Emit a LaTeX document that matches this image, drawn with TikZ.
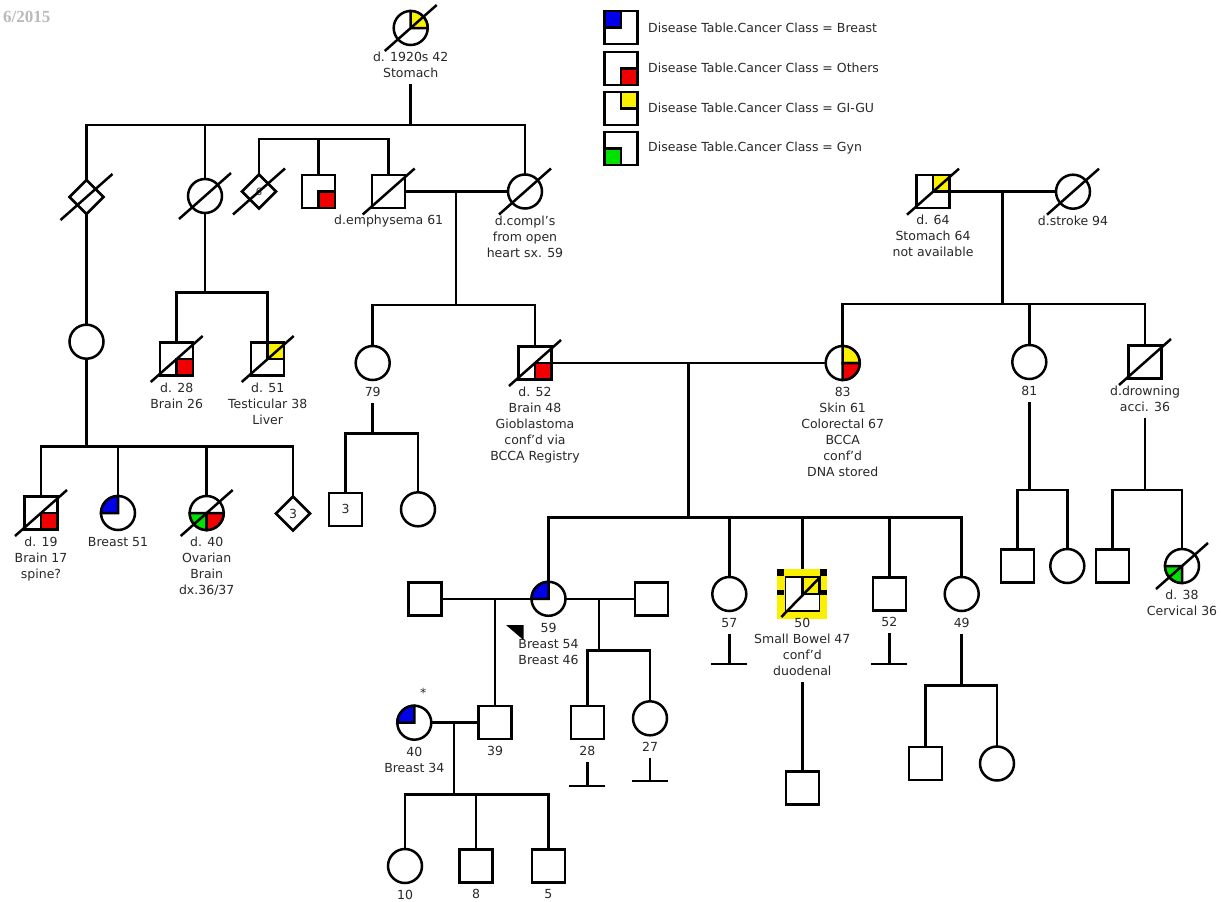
\documentclass[tikz,border=0pt]{standalone}
\usepackage{fontspec}
\setmainfont{DejaVu Sans}
\newfontfamily\datefont{Liberation Serif}
\usetikzlibrary{shapes.geometric}

\definecolor{qblue}{RGB}{0,0,235}
\definecolor{qred}{RGB}{240,0,0}
\definecolor{qyellow}{RGB}{250,240,0}
\definecolor{qgreen}{RGB}{0,225,0}
\definecolor{txt}{RGB}{40,40,40}
\newcommand{\lblfont}{\fontsize{12.5}{16}\selectfont}

% quadrant fills for squares
\newcommand{\pedSqUL}[2]{\filldraw[fill=#2,line width=2.5pt] (#1.center) rectangle (#1.north west);}
\newcommand{\pedSqUR}[2]{\filldraw[fill=#2,line width=2.5pt] (#1.center) rectangle (#1.north east);}
\newcommand{\pedSqLL}[2]{\filldraw[fill=#2,line width=2.5pt] (#1.center) rectangle (#1.south west);}
\newcommand{\pedSqLR}[2]{\filldraw[fill=#2,line width=2.5pt] (#1.center) rectangle (#1.south east);}
% quadrant fills for circles
\newcommand{\pedCiUL}[2]{\filldraw[fill=#2,line width=2.5pt] (#1.center) -- (#1.north) arc[start angle=90,end angle=180,radius=17pt] -- cycle;}
\newcommand{\pedCiUR}[2]{\filldraw[fill=#2,line width=2.5pt] (#1.center) -- (#1.north) arc[start angle=90,end angle=0,radius=17pt] -- cycle;}
\newcommand{\pedCiLL}[2]{\filldraw[fill=#2,line width=2.5pt] (#1.center) -- (#1.west) arc[start angle=180,end angle=270,radius=17pt] -- cycle;}
\newcommand{\pedCiLR}[2]{\filldraw[fill=#2,line width=2.5pt] (#1.center) -- (#1.south) arc[start angle=270,end angle=360,radius=17pt] -- cycle;}
% deceased slash
\newcommand{\pedSlash}[1]{\draw[line width=2.5pt] (#1.center) ++(-26,23) -- ++(52,-46);}

\tikzset{
  sym/.style={draw=black, line width=2.5pt, fill=white, inner sep=0pt, outer sep=0pt, font=\lblfont, text=txt},
  male/.style={sym, rectangle, minimum size=33pt},
  female/.style={sym, circle, minimum size=34pt},
  unknown/.style={sym, diamond, minimum width=34pt, minimum height=34pt},
  lbl/.style={anchor=north, inner sep=0pt, align=center, font=\lblfont, text=txt, yshift=-7pt},
  rel/.style={line width=2.5pt, draw=black},
  legtext/.style={anchor=west, inner sep=0pt, font=\lblfont, text=txt},
}

\begin{document}
\begin{tikzpicture}[x=1pt, y=-1pt]
\useasboundingbox (0,0) rectangle (1221,902);
\fill[white] (0,0) rectangle (1221,902);

% header fragment
\node[anchor=west, inner sep=0pt, font=\datefont\bfseries\fontsize{17}{17}\selectfont, text=black!27] (date) at (3,16.7) {6/2015};

% ---------- legend ----------
\node[male] (lg1) at (621,27.5) {};  \pedSqUL{lg1}{qblue}
\node[legtext] (lt1) at (648,27.5) {Disease Table.Cancer Class = Breast};
\node[male] (lg2) at (621,68.3) {};  \pedSqLR{lg2}{qred}
\node[legtext] (lt2) at (648,68.3) {Disease Table.Cancer Class = Others};
\node[male] (lg3) at (621,108.3) {}; \pedSqUR{lg3}{qyellow}
\node[legtext] (lt3) at (648,108.3) {Disease Table.Cancer Class = GI-GU};
\node[male] (lg4) at (621,148.3) {}; \pedSqLL{lg4}{qgreen}
\node[legtext] (lt4) at (648,148.3) {Disease Table.Cancer Class = Gyn};

% ---------- generation I ----------
\node[female] (gm) at (410.7,28) {}; \pedCiUR{gm}{qyellow} \pedSlash{gm}
\node[lbl] (gm-l) at (gm.south) {d. 1920s 42\\Stomach};
\coordinate (s0) at (410.7,125);
\draw[rel] (gm-l.south) ++(0,6) -- (s0);

\node[unknown] (ua) at (86.5,197) {}; \pedSlash{ua}
\node[female] (fa) at (205,196) {}; \pedSlash{fa}
\node[female] (fb) at (525,191.5) {}; \pedSlash{fb}
\node[lbl] (fb-l) at (fb.south) {d.compl's\\from open\\heart sx. 59};
\draw[rel] (ua.north) |- (s0);
\draw[rel] (fa.north) |- (s0);
\draw[rel] (fb.north) |- (s0);

% husband's sibship
\node[unknown] (ub) at (259,191.5) {\fontsize{10}{10}\selectfont 6}; \pedSlash{ub}
\node[male] (ma) at (318.7,191.5) {}; \pedSqLR{ma}{qred}
\node[male] (mb) at (388.7,191.5) {}; \pedSlash{mb}
\node[lbl] (mb-l) at (mb.south) {d.emphysema 61};
\coordinate (e0) at (318.7,139);
\draw[rel] (ub.north) |- (e0);
\draw[rel] (ma.north) -- (e0);
\draw[rel] (mb.north) |- (e0);

% ---------- left branch ----------
\node[female] (fj) at (86.5,341.7) {};
\draw[rel] (ua.south) -- (fj.north);
\coordinate (s7) at (86.5,446.7);
\draw[rel] (fj.south) -- (s7);
\node[male] (mk) at (41,513) {}; \pedSqLR{mk}{qred} \pedSlash{mk}
\node[lbl] (mk-l) at (mk.south) {d. 19\\Brain 17\\spine?};
\node[female] (fk) at (118,513) {}; \pedCiUL{fk}{qblue}
\node[lbl] (fk-l) at (fk.south) {Breast 51};
\node[female] (fl) at (206.7,513) {}; \pedCiLL{fl}{qgreen} \pedCiLR{fl}{qred} \pedSlash{fl}
\node[lbl] (fl-l) at (fl.south) {d. 40\\Ovarian\\Brain\\dx.36/37};
\node[unknown] (uc) at (293,513.5) {3};
\draw[rel] (mk.north) |- (s7);
\draw[rel] (fk.north) |- (s7);
\draw[rel] (fl.north) |- (s7);
\draw[rel] (uc.north) |- (s7);

\coordinate (s8) at (205,292.7);
\draw[rel] (fa.south) -- (s8);
\node[male] (ml) at (176.7,359) {}; \pedSqLR{ml}{qred} \pedSlash{ml}
\node[lbl] (ml-l) at (ml.south) {d. 28\\Brain 26};
\node[male] (mm) at (267.7,359) {}; \pedSqUR{mm}{qyellow} \pedSlash{mm}
\node[lbl] (mm-l) at (mm.south) {d. 51\\Testicular 38\\Liver};
\draw[rel] (ml.north) |- (s8);
\draw[rel] (mm.north) |- (s8);

% ---------- middle family ----------
\draw[rel] (mb.east) -- (fb.west);
\coordinate (c1) at (456,191.5);
\coordinate (s1) at (456,305);
\draw[rel] (c1) -- (s1);
\node[female] (fc) at (372.7,363) {};
\node[lbl] (fc-l) at (fc.south) {79};
\node[male] (mc) at (535,363) {}; \pedSqLR{mc}{qred} \pedSlash{mc}
\node[lbl] (mc-l) at (mc.south) {d. 52\\Brain 48\\Gioblastoma\\conf'd via\\BCCA Registry};
\draw[rel] (fc.north) |- (s1);
\draw[rel] (mc.north) |- (s1);

\coordinate (s2) at (372.7,433.3);
\draw[rel] (fc-l.south) ++(0,6) -- (s2);
\node[male] (md) at (345.7,509.3) {3};
\node[female] (fd) at (418,509.3) {};
\draw[rel] (md.north) |- (s2);
\draw[rel] (fd.north) |- (s2);

% ---------- right grandparents ----------
\node[male] (mf) at (933,191.7) {}; \pedSqUR{mf}{qyellow} \pedSlash{mf}
\node[lbl] (mf-l) at (mf.south) {d. 64\\Stomach 64\\not available};
\node[female] (ff) at (1073,191.7) {}; \pedSlash{ff}
\node[lbl] (ff-l) at (ff.south) {d.stroke 94};
\draw[rel] (mf.east) -- (ff.west);
\coordinate (c3) at (1002.3,191.7);
\coordinate (s4) at (1002.3,304);
\draw[rel] (c3) -- (s4);

\node[female] (fe) at (842.7,363) {}; \pedCiUR{fe}{qyellow} \pedCiLR{fe}{qred}
\node[lbl] (fe-l) at (fe.south) {83\\Skin 61\\Colorectal 67\\BCCA\\conf'd\\DNA stored};
\node[female] (fg) at (1029.3,362) {};
\node[lbl] (fg-l) at (fg.south) {81};
\node[male] (mg) at (1145,362) {}; \pedSlash{mg}
\node[lbl] (mg-l) at (mg.south) {d.drowning\\acci. 36};
\draw[rel] (fe.north) |- (s4);
\draw[rel] (fg.north) |- (s4);
\draw[rel] (mg.north) |- (s4);

\coordinate (s5) at (1029.3,490);
\draw[rel] (fg-l.south) ++(0,6) -- (s5);
\node[male] (mh) at (1017.7,566) {};
\node[female] (fh) at (1067.3,566) {};
\draw[rel] (mh.north) |- (s5);
\draw[rel] (fh.north) |- (s5);

\coordinate (s6) at (1145,490);
\draw[rel] (mg-l.south) ++(0,6) -- (s6);
\node[male] (mi) at (1112.3,566) {};
\node[female] (fi) at (1182,566) {}; \pedCiLL{fi}{qgreen} \pedSlash{fi}
\node[lbl] (fi-l) at (fi.south) {d. 38\\Cervical 36};
\draw[rel] (mi.north) |- (s6);
\draw[rel] (fi.north) |- (s6);

% ---------- couple d.52 x 83 ----------
\draw[rel] (mc.east) -- (fe.west);
\coordinate (c2) at (688.3,363);
\coordinate (s3) at (688.3,517.3);
\draw[rel] (c2) -- (s3);

\node[female] (fn) at (548.5,598.8) {}; \pedCiUL{fn}{qblue}
\node[lbl] (fn-l) at (fn.south) {59\\Breast 54\\Breast 46};
\fill (506,625) -- (523.5,625) -- (523.5,640) -- cycle;
\node[female] (fr) at (729.3,594) {};
\node[lbl] (fr-l) at (fr.south) {57};

% highlighted individual
\coordinate (mtc) at (802.3,594);
\coordinate (mtTop) at (802.3,569);
\fill[qyellow] (mtc) ++(-25,-25) rectangle ++(50,50);
\fill (mtc) ++(-25,-25) rectangle ++(7,7);
\fill (mtc) ++(18,-25) rectangle ++(7,7);
\fill (mtc) ++(-25,-4) rectangle ++(7,5);
\fill (mtc) ++(18,-4) rectangle ++(7,5);
\node[male, line width=1.6pt, minimum size=34pt] (mt) at (mtc) {};
\pedSqUR{mt}{qyellow}
\draw[line width=2.5pt] (mt.center) ++(-21,23) -- ++(38,-39);
\node[lbl] (mt-l) at (mt.south) {50\\Small Bowel 47\\conf'd\\duodenal};

\node[male] (mu) at (889.3,594) {};
\node[lbl] (mu-l) at (mu.south) {52};
\node[female] (fs) at (961.7,594) {};
\node[lbl] (fs-l) at (fs.south) {49};
\draw[rel] (fn.north) |- (s3);
\draw[rel] (fr.north) |- (s3);
\draw[rel] (mtTop) |- (s3);
\draw[rel] (mu.north) |- (s3);
\draw[rel] (fs.north) |- (s3);

% no offspring
\coordinate (nr) at (729.3,664);
\draw[rel] (fr-l.south) ++(0,6) -- (nr);
\draw[rel] (nr) ++(-18,0) -- ++(36,0);
\coordinate (nu) at (889.3,664);
\draw[rel] (mu-l.south) ++(0,6) -- (nu);
\draw[rel] (nu) ++(-18,0) -- ++(36,0);

\node[male] (mv) at (802.3,788) {};
\draw[rel] (mt-l.south) ++(0,6) -- (mv.north);

\coordinate (s11) at (961.7,685.7);
\draw[rel] (fs-l.south) ++(0,6) -- (s11);
\node[male] (mw) at (925.7,763.5) {};
\node[female] (ft) at (997,763.5) {};
\draw[rel] (mw.north) |- (s11);
\draw[rel] (ft.north) |- (s11);

% ---------- 59's partners and children ----------
\node[male] (mn) at (425,598.8) {};
\node[male] (mo) at (651.7,598.8) {};
\draw[rel] (mn.east) -- (fn.west);
\draw[rel] (fn.east) -- (mo.west);
\coordinate (c4) at (495,598.8);
\node[male] (mp) at (495,722.7) {};
\node[lbl] (mp-l) at (mp.south) {39};
\draw[rel] (c4) -- (mp.north);

\coordinate (c5) at (599,598.8);
\coordinate (s9) at (599,650.7);
\draw[rel] (c5) -- (s9);
\node[male] (mq) at (587.3,722.7) {};
\node[lbl] (mq-l) at (mq.south) {28};
\node[female] (fo) at (650,718.3) {};
\node[lbl] (fo-l) at (fo.south) {27};
\draw[rel] (mq.north) |- (s9);
\draw[rel] (fo.north) |- (s9);
\coordinate (nq) at (587.3,786);
\draw[rel] (mq-l.south) ++(0,6) -- (nq);
\draw[rel] (nq) ++(-18,0) -- ++(36,0);
\coordinate (no) at (650,781);
\draw[rel] (fo-l.south) ++(0,6) -- (no);
\draw[rel] (no) ++(-18,0) -- ++(36,0);

% ---------- 39 x 40 ----------
\node[female] (fp) at (414.3,722.7) {}; \pedCiUL{fp}{qblue}
\node[lbl] (fp-l) at (fp.south) {40\\Breast 34};
\node[font=\lblfont, text=txt, inner sep=0pt] (star) at (423.3,693) {*};
\draw[rel] (fp.east) -- (mp.west);
\coordinate (c6) at (454,722.7);
\coordinate (s10) at (454,794.3);
\draw[rel] (c6) -- (s10);
\node[female] (fq) at (405,866) {};
\node[lbl] (fq-l) at (fq.south) {10};
\node[male] (mr) at (476,866) {};
\node[lbl] (mr-l) at (mr.south) {8};
\node[male] (ms) at (548.3,866) {};
\node[lbl] (ms-l) at (ms.south) {5};
\draw[rel] (fq.north) |- (s10);
\draw[rel] (mr.north) |- (s10);
\draw[rel] (ms.north) |- (s10);
\end{tikzpicture}
\end{document}
